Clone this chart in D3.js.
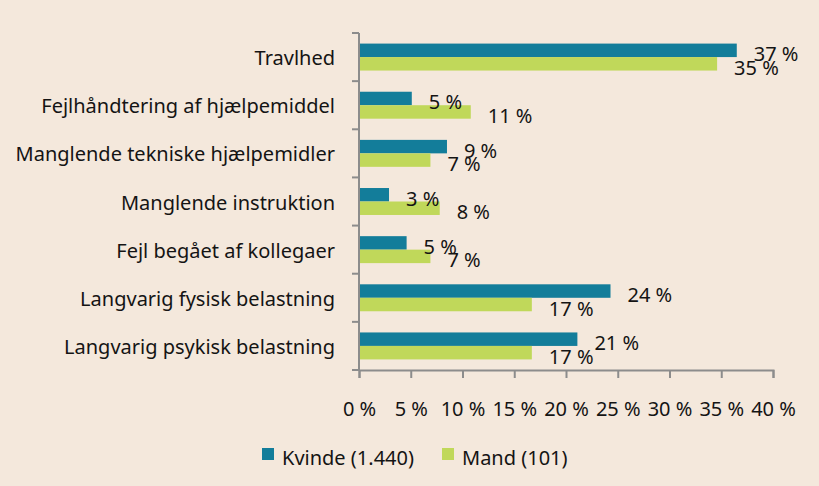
<!DOCTYPE html>
<html lang="da">
<head>
<meta charset="utf-8">
<title>Årsager</title>
<script src="https://d3js.org/d3.v7.min.js"></script>
<style>
  body { margin: 0; background: #f4e8dc; }
  svg { display: block; font-family: "Noto Sans", "Open Sans", sans-serif; }
</style>
</head>
<body>
<div id="chart"></div>
<script>
// categories, top to bottom
const categories = [
  "Travlhed",
  "Fejlhåndtering af hjælpemiddel",
  "Manglende tekniske hjælpemidler",
  "Manglende instruktion",
  "Fejl begået af kollegaer",
  "Langvarig fysisk belastning",
  "Langvarig psykisk belastning"
];
const seriesNames = ["Kvinde (1.440)", "Mand (101)"];
const kvinde = [36.5, 5.1, 8.5, 2.9, 4.6, 24.3, 21.1];
const mand = [34.6, 10.8, 6.9, 7.8, 6.9, 16.7, 16.7];
const xTicks = [0, 5, 10, 15, 20, 25, 30, 35, 40];

const colors = ["#137d9a", "#c0d85a"];

const w = 819, h = 486;
const mLeft = 359, mRight = 773, mTop = 33, mBottom = 370;
const fs = 20;

const svg = d3.select("#chart").append("svg")
  .attr("width", w).attr("height", h);

svg.append("rect").attr("width", w).attr("height", h).attr("fill", "#f4e8dc");

const x = d3.scaleLinear().domain([0, 40]).range([mLeft, mRight]);
const y0 = d3.scaleBand().domain(categories).range([mTop, mBottom])
  .paddingInner(0.44).paddingOuter(0.22);
const y1 = d3.scaleBand().domain([0, 1]).range([0, y0.bandwidth()]);

const rows = categories.map((c, i) => ({cat: c, vals: [kvinde[i], mand[i]]}));

const groups = svg.append("g").selectAll("g")
  .data(rows).join("g")
  .attr("transform", d => "translate(0," + y0(d.cat) + ")");

groups.selectAll("rect")
  .data(d => d.vals.map((v, k) => ({v, k})))
  .join("rect")
  .attr("x", x(0))
  .attr("y", d => y1(d.k))
  .attr("width", d => x(d.v) - x(0))
  .attr("height", y1.bandwidth())
  .attr("fill", d => colors[d.k]);

// value labels (they overlap in the original too)
groups.selectAll("text")
  .data(d => d.vals.map((v, k) => ({v, k})))
  .join("text")
  .attr("x", d => x(d.v) + 17)
  .attr("y", d => y1(d.k) + y1.bandwidth() / 2 + 11)
  .attr("font-size", fs)
  .attr("fill", "#141414")
  .text(d => Math.round(d.v) + " %");

// y axis: line + ticks at band boundaries
const axisColor = "#8c8c8c";
svg.append("line")
  .attr("x1", mLeft).attr("x2", mLeft).attr("y1", mTop).attr("y2", mBottom)
  .attr("stroke", axisColor).attr("stroke-width", 2);
const step = y0.step();
const bounds = d3.range(categories.length + 1).map(i => mTop + i * step);
svg.append("g").selectAll("line").data(bounds).join("line")
  .attr("x1", mLeft - 7).attr("x2", mLeft)
  .attr("y1", d => d).attr("y2", d => d)
  .attr("stroke", axisColor).attr("stroke-width", 2);

svg.append("g").selectAll("text").data(categories).join("text")
  .attr("x", mLeft - 24)
  .attr("y", d => y0(d) + y0.bandwidth() / 2 + 8)
  .attr("text-anchor", "end")
  .attr("font-size", fs)
  .attr("fill", "#141414")
  .text(d => d);

// x axis
const xAxis = d3.axisBottom(x).tickValues(xTicks)
  .tickSize(8).tickPadding(24).tickFormat(d => d + " %");
const gx = svg.append("g")
  .attr("transform", "translate(0," + mBottom + ")")
  .call(xAxis);
gx.select(".domain").attr("stroke", axisColor).attr("stroke-width", 2);
gx.selectAll(".tick line").attr("stroke", axisColor).attr("stroke-width", 2);
gx.selectAll(".tick text").attr("font-size", fs).attr("fill", "#141414")
  .attr("font-family", "\"Noto Sans\", sans-serif");

// legend
const legendX = [262, 442];
const lg = svg.append("g").selectAll("g").data(seriesNames).join("g")
  .attr("transform", (d, i) => "translate(" + legendX[i] + ",448)");
lg.append("rect").attr("width", 12).attr("height", 12)
  .attr("fill", (d, i) => colors[i]);
lg.append("text").attr("x", 20).attr("y", 17)
  .attr("font-size", fs).attr("fill", "#141414")
  .text(d => d);
</script>
</body>
</html>
